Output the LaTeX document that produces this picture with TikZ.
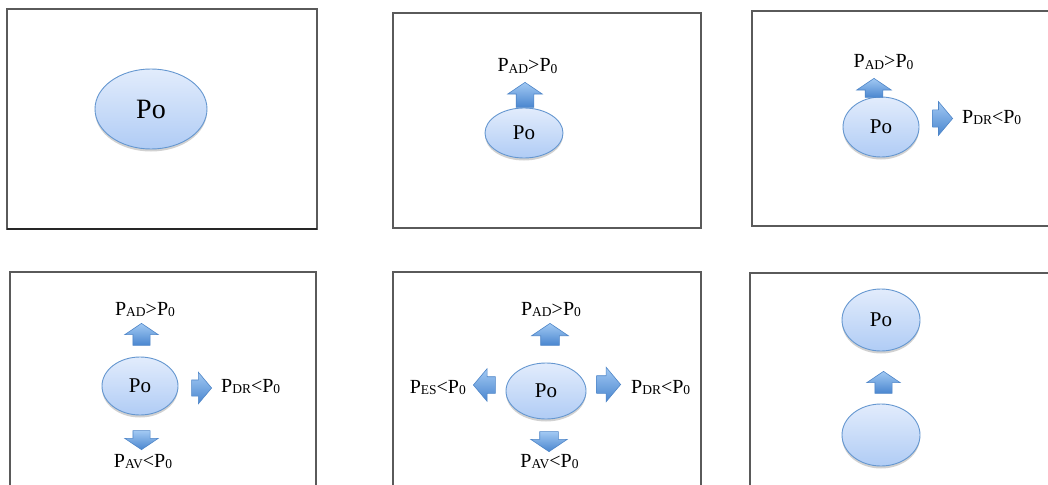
\documentclass[tikz,border=0pt]{standalone}
\usepackage{fontspec}
\setmainfont{Liberation Serif}
\usetikzlibrary{shapes.geometric,shapes.arrows,shadows}

\definecolor{frameclr}{HTML}{5A5A5A}
\definecolor{cellhi}{HTML}{E2ECFC}
\definecolor{celllo}{HTML}{B0CCF5}
\definecolor{celledge}{HTML}{6597D0}
\definecolor{arrhi}{HTML}{A2C9F3}
\definecolor{arrlo}{HTML}{4A86CF}
\definecolor{arredge}{HTML}{4F86C8}

% lowered, smaller index letters (P_AD, P_0 ...)
\newcommand\lowidx[1]{\raisebox{-1.8pt}{\fontsize{13.5}{14}\selectfont #1}}

\tikzset{
  panel/.style={draw=frameclr, line width=1.3pt},
  cell/.style={ellipse, draw=celledge, line width=0.9pt,
    top color=cellhi, bottom color=celllo, inner sep=0pt,
    drop shadow={shadow xshift=0pt, shadow yshift=-2.5pt, opacity=0.18, fill=black}},
  % block arrows, placed by their tip; the argument is the full head width in pt
  pushbase/.style={single arrow, draw=arredge, line width=0.6pt,
    top color=arrhi, bottom color=arrlo, anchor=tip,
    single arrow head extend=0.25*#1pt, minimum width=#1pt},
  hpush/.style={pushbase=#1, inner xsep=0pt, inner ysep=0.25*#1pt,
    single arrow tip angle=100},
  vpush/.style={pushbase=#1, inner ysep=0pt, inner xsep=0.25*#1pt,
    single arrow tip angle=112},
  lbl/.style={font=\fontsize{20}{24}\selectfont, inner sep=0pt},
  poname/.style={font=\fontsize{21}{24}\selectfont},
}

\begin{document}
\begin{tikzpicture}[x=1pt,y=-1pt]
\clip (0,0) rectangle (1048,484);
\fill[white] (0,0) rectangle (1048,484);

% ---- frames ----
\draw[panel] (7,9) rectangle (317,229);
\draw[panel, draw=black!85] (7,229) -- (317,229);
\draw[panel] (393,13) rectangle (701,228);
\draw[panel] (752,11) rectangle (1070,226);
\draw[panel] (10,272) rectangle (316,500);
\draw[panel] (393,272) rectangle (701,500);
\draw[panel] (750,273) rectangle (1070,500);

% ---- frame 1: resting cell ----
\node[cell, minimum width=112pt, minimum height=80pt,
      font=\fontsize{28}{30}\selectfont] (c1) at (151,109) {Po};

% ---- frame 2: push upward ----
\node[cell, poname, minimum width=78pt, minimum height=50pt] (c2) at (524,133) {Po};
\node[vpush=34, shape border rotate=90, minimum height=25pt] (a2u) at (525,82) {};
\node[lbl, anchor=base] (l2u) at (527.5,72) {P\lowidx{AD}>P\lowidx{0}};

% ---- frame 3: upward and rightward ----
\node[cell, poname, minimum width=76pt, minimum height=60pt] (c3) at (881,127) {Po};
\node[vpush=34, shape border rotate=90, minimum height=19pt] (a3u) at (874,78) {};
\node[hpush=33, shape border rotate=0, minimum height=20pt] (a3r) at (953,118.5) {};
\node[lbl, anchor=base] (l3u) at (883.5,68) {P\lowidx{AD}>P\lowidx{0}};
\node[lbl, anchor=base west] (l3r) at (962,123) {P\lowidx{DR}<P\lowidx{0}};

% ---- frame 4: upward, rightward, downward ----
\node[cell, poname, minimum width=76pt, minimum height=58pt] (c4) at (140,386) {Po};
\node[vpush=33, shape border rotate=90, minimum height=22pt] (a4u) at (141.5,323) {};
\node[hpush=31, shape border rotate=0, minimum height=20pt] (a4r) at (212,388) {};
\node[vpush=33, shape border rotate=270, minimum height=19pt] (a4d) at (141.5,450) {};
\node[lbl, anchor=base] (l4u) at (145,315) {P\lowidx{AD}>P\lowidx{0}};
\node[lbl, anchor=base west] (l4r) at (221,392) {P\lowidx{DR}<P\lowidx{0}};
\node[lbl, anchor=base] (l4d) at (143,467) {P\lowidx{AV}<P\lowidx{0}};

% ---- frame 5: all four directions ----
\node[cell, poname, minimum width=80pt, minimum height=56pt] (c5) at (546,391) {Po};
\node[vpush=36, shape border rotate=90, minimum height=22pt] (a5u) at (550,323) {};
\node[hpush=34, shape border rotate=0, minimum height=24pt] (a5r) at (621,384.5) {};
\node[hpush=32, shape border rotate=180, minimum height=22pt] (a5l) at (473,385) {};
\node[vpush=36, shape border rotate=270, minimum height=20pt] (a5d) at (549,452) {};
\node[lbl, anchor=base] (l5u) at (551,315) {P\lowidx{AD}>P\lowidx{0}};
\node[lbl, anchor=base west] (l5r) at (631,393) {P\lowidx{DR}<P\lowidx{0}};
\node[lbl, anchor=base east] (l5l) at (466,393) {P\lowidx{ES}<P\lowidx{0}};
\node[lbl, anchor=base] (l5d) at (549.5,467) {P\lowidx{AV}<P\lowidx{0}};

% ---- frame 6: cell displaced upward ----
\node[cell, poname, minimum width=78pt, minimum height=62pt] (c6t) at (881,320) {Po};
\node[cell, minimum width=78pt, minimum height=62pt] (c6b) at (881,435) {};
\node[vpush=33, shape border rotate=90, minimum height=22pt] (a6u) at (883.5,371) {};
\end{tikzpicture}
\end{document}
